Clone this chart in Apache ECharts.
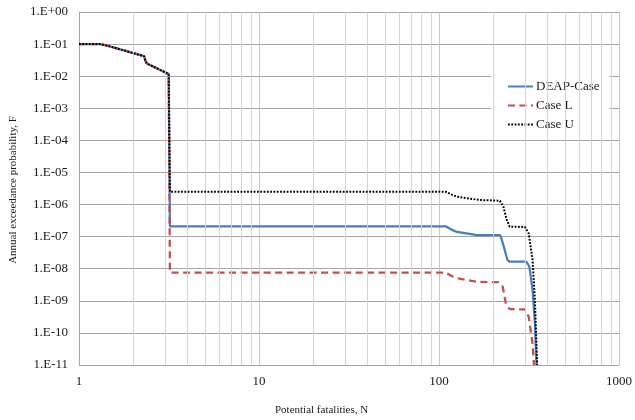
<!DOCTYPE html>
<html><head><meta charset="utf-8">
<script src="https://cdn.jsdelivr.net/npm/echarts@6/dist/echarts.min.js"></script>
<style>html,body{margin:0;padding:0;background:#fff}#c{width:635px;height:420px}</style>
</head><body><div id="c"></div>
<script>
const seriesNames = ['DEAP-Case', 'Case L', 'Case U'];
const xTickLabels = ['1', '10', '100', '1000'];
const yTickLabels = ['1.E-11','1.E-10','1.E-09','1.E-08','1.E-07','1.E-06','1.E-05','1.E-04','1.E-03','1.E-02','1.E-01','1.E+00'];
const xMinorTicks = [2,3,4,5,6,7,8,9,20,30,40,50,60,70,80,90,200,300,400,500,600,700,800,900];

const deapN = [1, 1.3, 1.4, 2.3, 2.34, 2.38, 3.15, 3.2, 108.8, 118.6, 126, 163, 218, 222, 232, 240, 247, 306, 318, 331, 341, 348];
const deapF = [0.1, 0.1, 0.093, 0.042, 0.03, 0.025, 0.0116, 2.1e-7, 2.1e-7, 1.6e-7, 1.4e-7, 1.12e-7, 1.12e-7, 9e-8, 3.8e-8, 1.86e-8, 1.65e-8, 1.65e-8, 1.15e-8, 2.2e-9, 2e-10, 1e-11];

const caseLN = [1, 1.3, 1.4, 2.3, 2.34, 2.38, 3.15, 3.2, 108.8, 121, 132, 163, 213, 226, 235, 247, 300, 315, 331, 337];
const caseLF = [0.1, 0.1, 0.093, 0.042, 0.03, 0.025, 0.0116, 7.6e-9, 7.6e-9, 5.4e-9, 4.8e-9, 3.9e-9, 3.8e-9, 2.75e-9, 8.3e-10, 5.5e-10, 5.4e-10, 3.2e-10, 4.7e-11, 1e-11];

const caseUN = [1, 1.3, 1.4, 2.3, 2.34, 2.38, 3.15, 3.2, 108.8, 118.6, 126, 169, 218, 228, 238, 247, 300, 315, 331, 341, 351];
const caseUF = [0.1, 0.1, 0.093, 0.042, 0.03, 0.025, 0.0116, 2.5e-6, 2.5e-6, 2e-6, 1.75e-6, 1.38e-6, 1.32e-6, 8.5e-7, 3.3e-7, 2.04e-7, 2e-7, 1.26e-7, 1.86e-8, 1.07e-9, 1e-11];

const pairs = (xs, ys) => xs.map((x, i) => [x, ys[i]]);
const FONT = 'Liberation Serif';

const chart = echarts.init(document.getElementById('c'), null, {renderer: 'canvas'});
chart.setOption({
  animation: false,
  backgroundColor: '#fff',
  grid: {left: 79, right: 12, top: 12, bottom: 55, containLabel: false},
  legend: {
    data: seriesNames,
    orient: 'vertical',
    left: 491, top: 68,
    padding: [12, 10, 6, 16],
    backgroundColor: '#fff',
    itemWidth: 25, itemHeight: 14, itemGap: 6,
    itemStyle: {opacity: 0},
    textStyle: {fontFamily: FONT, fontSize: 13, color: '#1a1a1a', padding: [0,0,0,-2]}
  },
  xAxis: {
    type: 'log', logBase: 10, min: 1, max: 1000, splitNumber: 3,
    axisLine: {show: true, lineStyle: {color: '#a6a6a6', width: 1}},
    axisTick: {show: false},
    axisLabel: {fontFamily: FONT, fontSize: 13, color: '#1a1a1a', margin: 10,
      formatter: v => xTickLabels[Math.round(Math.log10(v))]},
    splitLine: {show: true, lineStyle: {color: '#c8c8c8', width: 1}}
  },
  yAxis: {
    type: 'log', logBase: 10, min: 1e-11, max: 1, splitNumber: 11, interval: 1,
    axisLine: {show: true, lineStyle: {color: '#a6a6a6', width: 1}},
    axisTick: {show: false},
    axisLabel: {fontFamily: FONT, fontSize: 13, color: '#1a1a1a', margin: 11, showMinLabel: true, showMaxLabel: true,
      formatter: v => yTickLabels[Math.round(Math.log10(v)) + 11]},
    splitLine: {show: true, lineStyle: {color: '#a6a6a6', width: 1}}
  },
  graphic: [
    {type: 'text', left: 275, top: 405, style: {text: 'Potential fatalities, N', font: '11px "Liberation Serif"', fill: '#1a1a1a'}},
    {type: 'text', x: 13, y: 190, rotation: Math.PI / 2, style: {text: 'Annual exceedance probability, F', font: '11px "Liberation Serif"', fill: '#1a1a1a', align: 'center', verticalAlign: 'middle'}}
  ],
  series: [
    {type: 'line', name: '_minor', z: 1, silent: true, data: [], symbol: 'none',
      markLine: {silent: true, symbol: 'none', label: {show: false},
        lineStyle: {color: '#d4d4d4', width: 1, type: 'solid'},
        data: xMinorTicks.map(v => ({xAxis: v}))}},
    {type: 'line', name: seriesNames[0], data: pairs(deapN, deapF), symbol: 'none', showSymbol: false, z: 3,
      lineStyle: {color: '#4a7ebb', width: 2.25}, itemStyle: {color: '#4a7ebb'}},
    {type: 'line', name: seriesNames[1], data: pairs(caseLN, caseLF), symbol: 'none', showSymbol: false, z: 4,
      lineStyle: {color: '#c0504d', width: 2.25, type: [7, 4.5]}, itemStyle: {color: '#c0504d'}},
    {type: 'line', name: seriesNames[2], data: pairs(caseUN, caseUF), symbol: 'none', showSymbol: false, z: 5,
      lineStyle: {color: '#000', width: 2, type: [1.8, 1.5]}, itemStyle: {color: '#000'}}
  ]
});
</script></body></html>
